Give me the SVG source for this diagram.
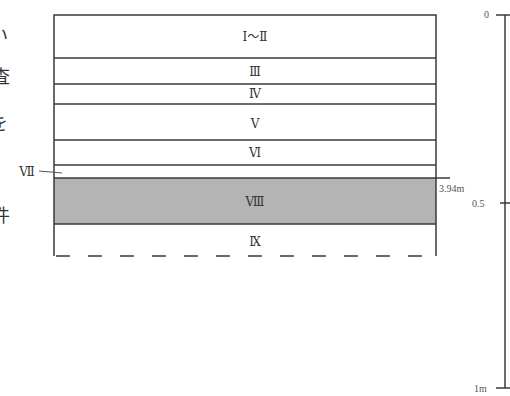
<svg xmlns="http://www.w3.org/2000/svg" width="510" height="396" viewBox="0 0 510 396">
<style>
.ln{stroke:#3a3a3a;stroke-width:1.5;fill:none}
.thin{stroke:#555;stroke-width:1;fill:none}
.lb{font-family:"DejaVu Serif","Liberation Serif","Noto Sans CJK JP",serif;font-size:12px;fill:#333;text-anchor:middle}
.sc{font-family:"Liberation Serif","Noto Sans CJK JP",serif;font-size:10px;fill:#555}
.cut{font-family:"Noto Sans CJK JP",serif;font-size:18px;fill:#333}
</style>
<rect width="510" height="396" fill="#fff"/>
<g id="margin-text">
<text class="cut" x="-10" y="42">い</text>
<text class="cut" x="-8" y="83">査</text>
<text class="cut" x="-10" y="130">を</text>
<text class="cut" x="-8" y="222">件</text>
<text class="cut" x="-10" y="317">)</text>
</g>
<g id="layer-VIII">
<rect x="54" y="178" width="382" height="46" fill="#b4b4b4"/>
<text class="lb" x="255" y="206">Ⅷ</text>
</g>
<g id="column">
<polyline class="ln" points="54,256 54,15 436,15 436,256"/>
<line class="ln" x1="54" y1="58" x2="436" y2="58"/>
<line class="ln" x1="54" y1="84" x2="436" y2="84"/>
<line class="ln" x1="54" y1="104" x2="436" y2="104"/>
<line class="ln" x1="54" y1="140" x2="436" y2="140"/>
<line class="ln" x1="54" y1="165" x2="436" y2="165"/>
<line class="ln" x1="54" y1="178" x2="450" y2="178"/>
<line class="ln" x1="54" y1="224" x2="436" y2="224"/>
<line class="ln" x1="56" y1="256" x2="436" y2="256" stroke-dasharray="14,18"/>
</g>
<g id="layer-I-II"><text class="lb" x="255" y="41">Ⅰ～Ⅱ</text></g>
<g id="layer-III"><text class="lb" x="255" y="76">Ⅲ</text></g>
<g id="layer-IV"><text class="lb" x="255" y="98">Ⅳ</text></g>
<g id="layer-V"><text class="lb" x="255" y="128">Ⅴ</text></g>
<g id="layer-VI"><text class="lb" x="255" y="157">Ⅵ</text></g>
<g id="layer-VII"><text class="lb" x="27" y="176">Ⅶ</text></g>
<g id="layer-IX"><text class="lb" x="255" y="246">Ⅸ</text></g>
<g id="connectors">
<line class="thin" x1="39" y1="171" x2="62" y2="173"/>
</g>
<g id="elevation"><text class="sc" x="439" y="192">3.94m</text></g>
<g id="scale">
<line class="ln" x1="505" y1="15" x2="505" y2="388"/>
<line class="ln" x1="496" y1="15" x2="510" y2="15"/>
<line class="ln" x1="500" y1="203" x2="510" y2="203"/>
<line class="ln" x1="496" y1="388" x2="510" y2="388"/>
<text class="sc" x="484" y="18">0</text>
<text class="sc" x="472" y="207">0.5</text>
<text class="sc" x="474" y="392">1m</text>
</g>
</svg>
